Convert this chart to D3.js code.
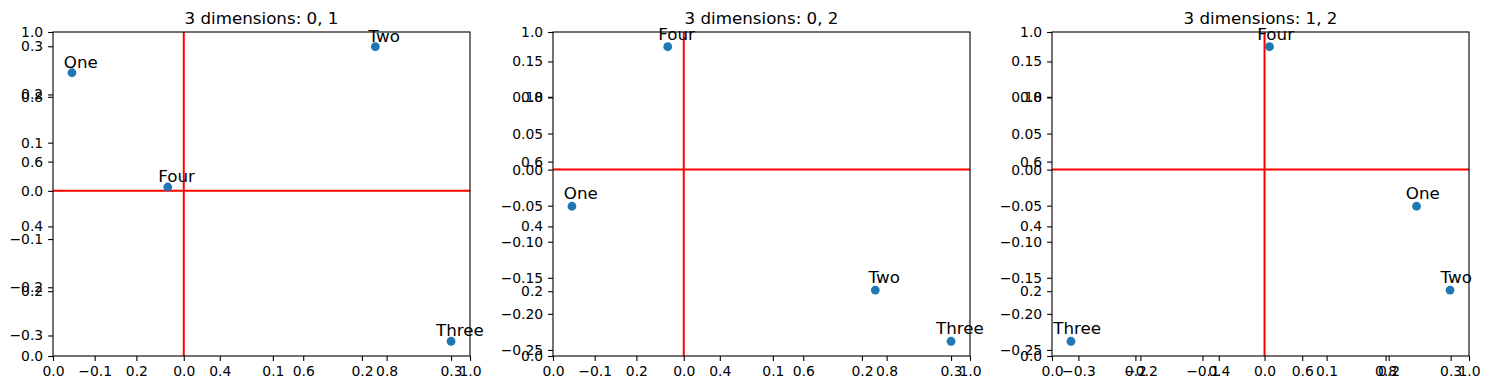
<!DOCTYPE html>
<html>
  <head>
    <title>3 dimensions</title>
    <script src="https://cdn.jsdelivr.net/npm/d3@7"></script>
    <style>
      body { margin: 0; background: #fff; }
      text { font-family: "DejaVu Sans", sans-serif; fill: #000; }
    </style>
  </head>
  <body>
    <svg width="1489" height="390" id="mainsvg"></svg>
    <script>
      // data: one point per label, three coordinates (dim 0, 1, 2)
      const labels = ['One', 'Two', 'Three', 'Four'];
      const dim0 = [-0.1255, 0.215, 0.300, -0.018];
      const dim1 = [0.245, 0.299, -0.312, 0.008];
      const dim2 = [-0.0508, -0.167, -0.238, 0.1704];
      const dims = [dim0, dim1, dim2];

      const pairs = [[0, 1], [0, 2], [1, 2]];
      const unitTicks = [0, 0.2, 0.4, 0.6, 0.8, 1.0];
      const xTickSets = [
        [-0.1, 0.0, 0.1, 0.2, 0.3],
        [-0.1, 0.0, 0.1, 0.2, 0.3],
        [-0.3, -0.2, -0.1, 0.0, 0.1, 0.2, 0.3]
      ];
      const yTickSets = [
        [-0.3, -0.2, -0.1, 0.0, 0.1, 0.2, 0.3],
        [-0.25, -0.20, -0.15, -0.10, -0.05, 0.00, 0.05, 0.10, 0.15],
        [-0.25, -0.20, -0.15, -0.10, -0.05, 0.00, 0.05, 0.10, 0.15]
      ];
      const yDigits = [1, 2, 2];

      const svg = d3.select('#mainsvg');
      const panelLeft = [53, 553, 1052];
      const panelW = 417;
      const marginTop = 32, panelH = 324;

      const fmtN = (n) => (v => {
        const s = Math.abs(v).toFixed(n);
        return (v < 0 && +s !== 0 ? '\u2212' : '') + s;
      });

      // matplotlib-like autoscale with 5% margin
      const padExtent = arr => {
        const [a, b] = d3.extent(arr);
        const m = (b - a) * 0.05;
        return [a - m, b + m];
      };

      const styleAxis = (sel) => {
        sel.selectAll('.domain').remove();
        sel.selectAll('.tick line').attr('stroke', '#000').attr('stroke-width', 1.1);
        sel.selectAll('.tick text').attr('font-size', '13.9px').attr('font-family', '"DejaVu Sans", sans-serif').attr('fill', '#000');
      };

      pairs.forEach(([xi, yi], p) => {
        const g = svg.append('g').attr('transform', `translate(${panelLeft[p]}, ${marginTop})`);
        const xs = dims[xi], ys = dims[yi];

        const xScale = d3.scaleLinear().domain(padExtent(xs)).range([0, panelW]);
        const yScale = d3.scaleLinear().domain(padExtent(ys)).range([panelH, 0]);
        const ux = d3.scaleLinear().domain([0, 1]).range([0, panelW]);
        const uy = d3.scaleLinear().domain([0, 1]).range([panelH, 0]);

        // background 0..1 axes
        g.append('g').attr('transform', `translate(0, ${panelH})`)
          .call(d3.axisBottom(ux).tickValues(unitTicks).tickFormat(fmtN(1)).tickSize(4.9).tickPadding(4.9))
          .call(styleAxis);
        g.append('g')
          .call(d3.axisLeft(uy).tickValues(unitTicks).tickFormat(fmtN(1)).tickSize(4.9).tickPadding(4.9))
          .call(styleAxis);

        // data axes
        g.append('g').attr('transform', `translate(0, ${panelH})`)
          .call(d3.axisBottom(xScale).tickValues(xTickSets[p]).tickFormat(fmtN(1)).tickSize(4.9).tickPadding(4.9))
          .call(styleAxis);
        g.append('g')
          .call(d3.axisLeft(yScale).tickValues(yTickSets[p]).tickFormat(fmtN(yDigits[p])).tickSize(4.9).tickPadding(4.9))
          .call(styleAxis);

        // red zero lines
        g.append('line')
          .attr('x1', 0).attr('x2', panelW)
          .attr('y1', yScale(0)).attr('y2', yScale(0))
          .attr('stroke', 'red').attr('stroke-width', 2);
        g.append('line')
          .attr('x1', xScale(0)).attr('x2', xScale(0))
          .attr('y1', 0).attr('y2', panelH)
          .attr('stroke', 'red').attr('stroke-width', 2);

        g.selectAll('circle.pt')
          .data(labels)
          .join('circle')
          .attr('class', 'pt')
          .attr('cx', (d, i) => xScale(xs[i]))
          .attr('cy', (d, i) => yScale(ys[i]))
          .attr('r', 4.4)
          .attr('fill', '#1f77b4');

        g.selectAll('text.lbl')
          .data(labels)
          .join('text')
          .attr('class', 'lbl')
          .attr('x', (d, i) => xScale(xs[i] + 0.01))
          .attr('y', (d, i) => yScale(ys[i] + 0.01))
          .attr('text-anchor', 'middle')
          .attr('font-size', '16.7px')
          .text(d => d);

        // frame
        g.append('rect')
          .attr('width', panelW).attr('height', panelH)
          .attr('fill', 'none').attr('stroke', '#000').attr('stroke-width', 1.1);

        g.append('text')
          .attr('x', panelW / 2).attr('y', -8.5)
          .attr('text-anchor', 'middle')
          .attr('font-size', '16.7px')
          .text(`3 dimensions: ${xi}, ${yi}`);
      });
    </script>
  </body>
</html>
